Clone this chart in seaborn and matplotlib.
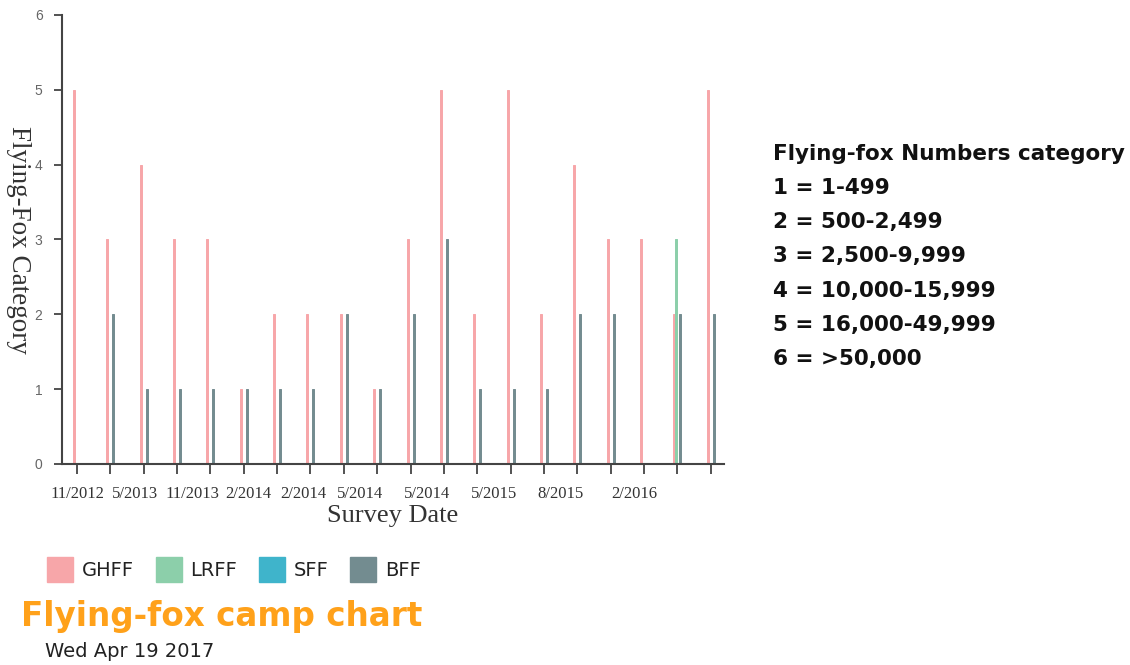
import numpy as np
import pandas as pd
import matplotlib
matplotlib.use('Agg')
import matplotlib.pyplot as plt
import seaborn as sns

# 20 surveys, one group of bars each
survey_idx = list(range(20))
species = ["GHFF", "LRFF", "SFF", "BFF"]
ghff = [5, 3, 4, 3, 3, 1, 2, 2, 2, 1, 3, 5, 2, 5, 2, 4, 3, 3, 2, 5]
lrff = [0, 0, 0, 0, 0, 0, 0, 0, 0, 0, 0, 0, 0, 0, 0, 0, 0, 0, 3, 0]
sff = [0] * 20
bff = [0, 2, 1, 1, 1, 1, 1, 1, 2, 1, 2, 3, 1, 1, 1, 2, 2, 0, 2, 2]

date_labels = ["11/2012", "5/2013", "11/2013", "2/2014", "2/2014",
               "5/2014", "5/2014", "5/2015", "8/2015", "2/2016"]
# where the web chart happened to draw those labels (in survey index units)
label_pos = [0.02, 1.74, 3.45, 5.15, 6.8, 8.5, 10.5, 12.5, 14.5, 16.7]

category_lines = ["1 = 1-499", "2 = 500-2,499", "3 = 2,500-9,999",
                  "4 = 10,000-15,999", "5 = 16,000-49,999", "6 = >50,000"]

colors = {"GHFF": "#f7a6a9", "LRFF": "#8ccfaa", "SFF": "#3fb4cb", "BFF": "#738c90"}

rows = []
for name, vals in zip(species, [ghff, lrff, sff, bff]):
    for i, v in zip(survey_idx, vals):
        rows.append({"survey": i, "species": name, "category": v})
df = pd.DataFrame(rows)

sns.set_style("white")
plt.rcParams['font.family'] = ['DejaVu Sans']

fig = plt.figure(figsize=(11.3, 6.65), dpi=100)
ax = fig.add_axes([0.0549, 0.3023, 0.5858, 0.6752])

sns.barplot(data=df, x="survey", y="category", hue="species", hue_order=species,
            palette=colors, width=0.24, gap=0, dodge=True, ax=ax, legend=False,
            saturation=1, native_scale=True)
# thin bars: give each one an edge in its own colour so it renders solid
for patch in ax.patches:
    patch.set_edgecolor(patch.get_facecolor())
    patch.set_linewidth(0.7)

ax.set_xlim(-0.45, 19.4)
ax.set_ylim(0, 6)
ax.set_yticks(range(7))
ax.set_yticklabels([str(i) for i in range(7)], color="#666666", fontsize=10,
                   family="Liberation Sans")
ax.set_xticks(survey_idx)
ax.set_xticklabels([])
ax.set_xticks(label_pos, minor=True)
ax.set_xticklabels(date_labels, minor=True, fontsize=12, family="Liberation Serif",
                   color="#333333")
ax.tick_params(axis="x", which="major", bottom=True, length=7, width=1.3,
               color="#444444", direction="out")
ax.tick_params(axis="x", which="minor", bottom=True, length=0, pad=16)
ax.tick_params(axis="y", left=True, length=6, width=1.3, color="#444444",
               direction="out", pad=8)
sns.despine(ax=ax)
for s in ["left", "bottom"]:
    ax.spines[s].set_color("#444444")
    ax.spines[s].set_linewidth(1.5)

ax.set_xlabel("Survey Date", family="Liberation Serif", fontsize=19, color="#333333",
              labelpad=0)
ax.xaxis.set_label_coords(0.5, -0.092)
ax.set_ylabel("Flying-Fox Category", family="Liberation Serif", fontsize=19.5,
              color="#333333", rotation=270, va="center")
ax.yaxis.set_label_coords(-0.066, 0.5)

# legend below the chart
handles = [plt.Rectangle((0, 0), 1, 1, color=colors[s]) for s in species]
fig.legend(handles, species, loc="upper left", bbox_to_anchor=(0.0416, 0.162),
           ncol=4, frameon=False, handlelength=1.35, handleheight=1.55,
           columnspacing=1.1, handletextpad=0.45, borderpad=0, borderaxespad=0,
           labelcolor="#222222", prop={"family": "DejaVu Sans", "size": 14})

fig.text(0.019, 0.058, "Flying-fox camp chart", color="#ffa11a", fontsize=23.5,
         fontweight="bold", family="DejaVu Sans", va="baseline")
fig.text(0.04, 0.012, "Wed Apr 19 2017", color="#222222", fontsize=14,
         family="DejaVu Sans", va="baseline")

# category key on the right
fig.text(0.684, 0.76, "Flying-fox Numbers category", fontsize=15.5, fontweight="bold",
         family="DejaVu Sans", va="baseline", color="#111111")
for k, line in enumerate(category_lines):
    fig.text(0.684, 0.76 - (k + 1) * 0.0515, line, fontsize=15.5, fontweight="bold",
             family="DejaVu Sans", va="baseline", color="#111111")

fig.savefig("out.png", dpi=100)
